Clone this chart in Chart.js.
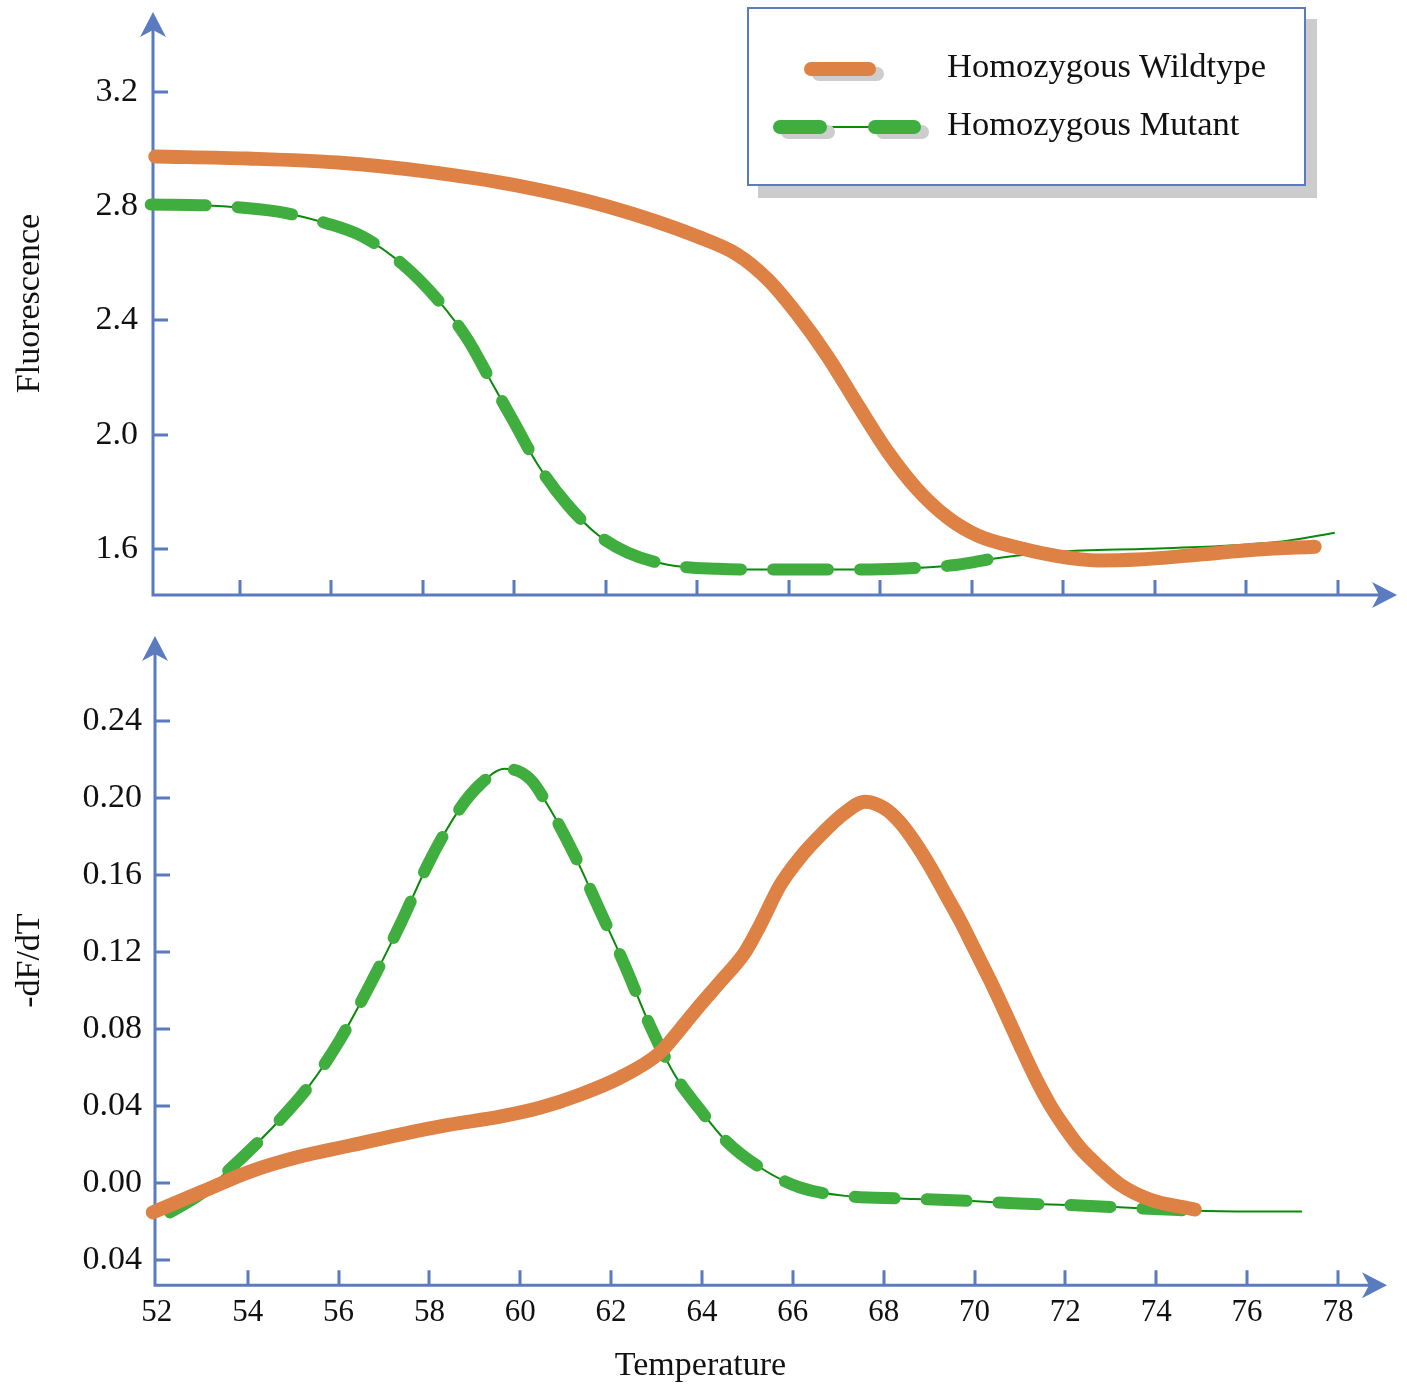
<!DOCTYPE html>
<html>
<head>
<meta charset="utf-8">
<script src="https://cdn.jsdelivr.net/npm/chart.js@4.4.1/dist/chart.umd.min.js"></script>
<style>
html,body{margin:0;padding:0;background:#fff;}
#wrap{position:relative;width:1407px;height:1387px;overflow:hidden;background:#fff;font-family:"Liberation Serif","Times New Roman",serif;}
#c1{position:absolute;left:0;top:0;}
#c2{position:absolute;left:0;top:620px;}
#legend{position:absolute;left:747px;top:7px;width:555px;height:175px;border:2px solid #5b7bc0;background:#fff;box-shadow:11px 12px 0 #cccccc;}
.lg-item{position:absolute;left:0;width:100%;height:40px;}
.lg-text{position:absolute;left:198px;top:0;font-size:34.5px;line-height:40px;color:#111;white-space:nowrap;}
.bar{position:absolute;top:17px;height:14px;border-radius:7px;box-shadow:8px 5px 0 #cdcdcd;}
.thin{position:absolute;top:23px;height:2px;}
</style>
</head>
<body>
<div id="wrap">
  <canvas id="c1" width="1407" height="620"></canvas>
  <canvas id="c2" width="1407" height="767"></canvas>
  <div id="legend"></div>
</div>
<script>
// ---------- data ----------
const seriesNames = ['Homozygous Wildtype', 'Homozygous Mutant'];
const xTitle = 'Temperature';
const topYTitle = 'Fluorescence';
const botYTitle = '-dF/dT';

const xTickValues = [52, 54, 56, 58, 60, 62, 64, 66, 68, 70, 72, 74, 76, 78];
const xTickLabels = ['52', '54', '56', '58', '60', '62', '64', '66', '68', '70', '72', '74', '76', '78'];
const topYTickValues = [1.6, 2.0, 2.4, 2.8, 3.2];
const topYTickLabels = ['1.6', '2.0', '2.4', '2.8', '3.2'];
const botYTickValues = [-0.04, 0, 0.04, 0.08, 0.12, 0.16, 0.20, 0.24];
const botYTickLabels = ['0.04', '0.00', '0.04', '0.08', '0.12', '0.16', '0.20', '0.24'];

// Top panel: melt curves (fluorescence)
const topWildTemp  = [52.15, 54.17, 56.14, 58.1, 60.07, 62.04, 64.0, 64.88, 65.54, 66.19, 66.85, 67.5, 68.16, 68.81, 69.47, 70.13, 71.0, 71.87, 72.75, 73.62, 74.93, 76.25, 77.49];
const topWildFluor = [2.974, 2.967, 2.953, 2.921, 2.872, 2.799, 2.694, 2.63, 2.543, 2.42, 2.273, 2.105, 1.94, 1.808, 1.71, 1.647, 1.605, 1.575, 1.56, 1.563, 1.58, 1.598, 1.608];
const topMutTemp   = [52.05, 53.4, 54.83, 55.92, 56.68, 57.56, 58.32, 58.98, 59.53, 59.96, 60.51, 61.16, 61.82, 62.48, 63.35, 64.44, 65.75, 67.07, 68.38, 69.69, 70.34, 71.87, 73.84, 75.66, 76.9, 77.93];
const topMutFluor  = [2.806, 2.802, 2.781, 2.739, 2.694, 2.596, 2.473, 2.333, 2.175, 2.053, 1.895, 1.755, 1.65, 1.587, 1.545, 1.531, 1.528, 1.528, 1.531, 1.545, 1.563, 1.59, 1.601, 1.612, 1.629, 1.657];
const topMutDashEnd = 70.34;

// Bottom panel: derivative curves (-dF/dT)
const botWildTemp  = [51.91, 52.95, 54.05, 55.15, 56.25, 57.35, 58.45, 59.55, 60.43, 61.31, 62.19, 63.07, 63.51, 63.96, 64.4, 64.95, 65.28, 65.72, 66.16, 66.6, 67.15, 67.59, 68.03, 68.36, 68.69, 69.02, 69.35, 69.68, 70.01, 70.34, 70.67, 71.0, 71.33, 71.66, 71.99, 72.32, 72.76, 73.2, 73.86, 74.85];
const botWildDeriv = [-0.0152, -0.0049, 0.006, 0.0138, 0.0195, 0.0252, 0.0303, 0.0345, 0.0391, 0.0459, 0.0547, 0.0676, 0.0795, 0.0925, 0.1044, 0.1199, 0.1339, 0.1546, 0.169, 0.1804, 0.1923, 0.198, 0.1944, 0.1872, 0.1768, 0.1644, 0.1504, 0.1364, 0.1209, 0.1054, 0.0888, 0.0717, 0.0552, 0.0407, 0.0288, 0.0184, 0.0081, -0.0007, -0.0085, -0.0137];
const botMutTemp   = [52.29, 52.95, 53.83, 54.71, 55.37, 56.03, 56.69, 57.35, 58.01, 58.67, 59.11, 59.66, 60.21, 60.65, 61.2, 61.75, 62.3, 62.85, 63.4, 63.96, 64.5, 65.28, 66.16, 67.26, 68.36, 69.68, 71.0, 72.32, 73.64, 74.74, 76.06, 77.21];
const botMutDeriv  = [-0.0152, -0.0059, 0.0122, 0.0329, 0.051, 0.0743, 0.1028, 0.1339, 0.1675, 0.1944, 0.2068, 0.2151, 0.2099, 0.1944, 0.170, 0.1416, 0.1131, 0.0821, 0.0562, 0.0381, 0.0226, 0.0081, -0.0023, -0.0069, -0.008, -0.009, -0.0106, -0.0116, -0.0131, -0.0142, -0.0147, -0.0147];
const botMutDashEnd = 74.74;

// ---------- styles ----------
const AXIS = '#5b7bc0';
const ORANGE = '#de8144';
const GREEN = '#3fae3f';
const DKGREEN = '#0a8a0a';
const FONT = '"Liberation Serif", "Times New Roman", serif';

function pairs(xs, ys) { return xs.map((x, i) => ({ x: x, y: ys[i] })); }

function drawArrow(ctx, x, y, dir) {
  const L = 25, W = 13, N = 7;
  ctx.beginPath();
  if (dir === 'right') {
    ctx.moveTo(x, y); ctx.lineTo(x - L, y - W); ctx.lineTo(x - L + N, y); ctx.lineTo(x - L, y + W);
  } else {
    ctx.moveTo(x, y); ctx.lineTo(x - W, y + L); ctx.lineTo(x, y + L - N); ctx.lineTo(x + W, y + L);
  }
  ctx.closePath(); ctx.fill();
}

const axisPlugin = {
  id: 'axisArrows',
  beforeDatasetsDraw(chart, args, opts) {
    const ctx = chart.ctx, a = chart.chartArea, xs = chart.scales.x, ys = chart.scales.y;
    ctx.save();
    ctx.strokeStyle = AXIS; ctx.fillStyle = AXIS; ctx.lineWidth = 3; ctx.lineCap = 'butt';
    ctx.beginPath();
    ctx.moveTo(a.left, a.top + 15); ctx.lineTo(a.left, a.bottom + 1.5);
    ctx.moveTo(a.left - 1.5, a.bottom); ctx.lineTo(a.right - 15, a.bottom);
    (opts.xTicks || []).forEach(v => {
      const px = Math.round(xs.getPixelForValue(v));
      ctx.moveTo(px, a.bottom); ctx.lineTo(px, a.bottom - 15);
    });
    (opts.yTicks || []).forEach(v => {
      const py = Math.round(ys.getPixelForValue(v));
      ctx.moveTo(a.left, py); ctx.lineTo(a.left + 15, py);
    });
    ctx.stroke();
    drawArrow(ctx, a.right, a.bottom, 'right');
    drawArrow(ctx, a.left, a.top, 'up');
    ctx.restore();
  }
};

function makeDatasets(wT, wV, mT, mV, dashEnd, dash) {
  const mut = pairs(mT, mV);
  return [
    { label: seriesNames[0], data: pairs(wT, wV), borderColor: ORANGE, borderWidth: 14,
      borderCapStyle: 'round', borderJoinStyle: 'round', pointRadius: 0,
      cubicInterpolationMode: 'monotone', order: 0, clip: false },
    { label: seriesNames[1], data: mut.filter(p => p.x <= dashEnd), borderColor: GREEN, borderWidth: 12,
      borderDash: dash, borderCapStyle: 'round', borderJoinStyle: 'round', pointRadius: 0,
      cubicInterpolationMode: 'monotone', order: 1, clip: false },
    { label: seriesNames[1], data: mut, borderColor: DKGREEN, borderWidth: 2,
      pointRadius: 0, cubicInterpolationMode: 'monotone', order: 2, clip: false }
  ];
}

function build() {
  Chart.defaults.font.family = FONT;
  Chart.defaults.color = '#111';

  // Top panel
  new Chart(document.getElementById('c1'), {
    type: 'line',
    data: { datasets: makeDatasets(topWildTemp, topWildFluor, topMutTemp, topMutFluor, topMutDashEnd, [55, 32]) },
    plugins: [axisPlugin],
    options: {
      responsive: false, animation: false, devicePixelRatio: 1,
      layout: { padding: { left: 0, top: 12, right: 10, bottom: 0 } },
      plugins: { legend: { display: false }, tooltip: { enabled: false },
        axisArrows: { xTicks: xTickValues.slice(1), yTicks: topYTickValues } },
      scales: {
        x: { type: 'linear', min: 52.1, max: 79.29,
          afterBuildTicks: s => { s.ticks = xTickValues.map(v => ({ value: v })); },
          afterFit: s => { s.height = 25; s.paddingLeft = 0; s.paddingRight = 0; },
          grid: { display: false, drawTicks: false }, border: { display: false },
          ticks: { display: false } },
        y: { type: 'linear', min: 1.439, max: 3.48,
          afterBuildTicks: s => { s.ticks = topYTickValues.map(v => ({ value: v })); },
          afterFit: s => { s.width = 153; s.paddingTop = 0; s.paddingBottom = 0; },
          grid: { display: false, drawTicks: false }, border: { display: false },
          ticks: { autoSkip: false, padding: 15, color: '#111', font: { family: FONT, size: 34 },
            callback: (v, i) => topYTickLabels[i] },
          title: { display: true, text: topYTitle, color: '#111', font: { family: FONT, size: 34 },
            padding: { top: 10, bottom: 0 } } }
      }
    }
  });

  // Bottom panel
  new Chart(document.getElementById('c2'), {
    type: 'line',
    data: { datasets: makeDatasets(botWildTemp, botWildDeriv, botMutTemp, botMutDeriv, botMutDashEnd, [40, 32]) },
    plugins: [axisPlugin],
    options: {
      responsive: false, animation: false, devicePixelRatio: 1,
      layout: { padding: { left: 14, top: 16, right: 20, bottom: 0 } },
      plugins: { legend: { display: false }, tooltip: { enabled: false },
        title: { display: true, position: 'bottom', align: 'center', text: xTitle, color: '#111',
          font: { family: FONT, size: 34, weight: 'normal' }, padding: { top: 0, bottom: 1 } },
        axisArrows: { xTicks: xTickValues.slice(1), yTicks: botYTickValues } },
      scales: {
        x: { type: 'linear', min: 51.96, max: 79.08,
          afterBuildTicks: s => { s.ticks = xTickValues.map(v => ({ value: v })); },
          afterFit: s => { s.height = 60; s.paddingLeft = 0; s.paddingRight = 0; },
          grid: { display: false, drawTicks: false }, border: { display: false },
          ticks: { autoSkip: false, maxRotation: 0, padding: 9, color: '#111', font: { family: FONT, size: 31 },
            callback: (v, i) => xTickLabels[i] } },
        y: { type: 'linear', min: -0.053, max: 0.284,
          afterBuildTicks: s => { s.ticks = botYTickValues.map(v => ({ value: v })); },
          afterFit: s => { s.width = 141; s.paddingTop = 0; s.paddingBottom = 0; },
          grid: { display: false, drawTicks: false }, border: { display: false },
          ticks: { autoSkip: false, padding: 13, color: '#111', font: { family: FONT, size: 34 },
            callback: (v, i) => botYTickLabels[i] },
          title: { display: true, text: botYTitle, color: '#111', font: { family: FONT, size: 34 },
            padding: { top: -4, bottom: 0 } } }
      }
    }
  });

  // Legend (HTML, real text)
  const lg = document.getElementById('legend');
  const rows = [
    { top: 36, name: seriesNames[0], parts: [{ cls: 'bar', left: 55, width: 72, color: ORANGE }] },
    { top: 94, name: seriesNames[1], parts: [
      { cls: 'thin', left: 78, width: 42, color: DKGREEN },
      { cls: 'bar', left: 24, width: 54, color: GREEN },
      { cls: 'bar', left: 119, width: 53, color: GREEN } ] }
  ];
  rows.forEach(r => {
    const item = document.createElement('div');
    item.className = 'lg-item'; item.style.top = r.top + 'px';
    r.parts.forEach(p => {
      const s = document.createElement('span');
      s.className = p.cls; s.style.left = p.left + 'px'; s.style.width = p.width + 'px'; s.style.background = p.color;
      item.appendChild(s);
    });
    const t = document.createElement('span');
    t.className = 'lg-text'; t.textContent = r.name;
    item.appendChild(t);
    lg.appendChild(item);
  });
}

(document.fonts && document.fonts.load ? document.fonts.load('34px "Liberation Serif"') : Promise.resolve())
  .catch(() => {}).then(build);
</script>
</body>
</html>
